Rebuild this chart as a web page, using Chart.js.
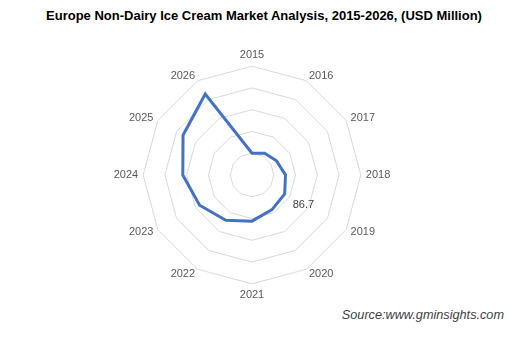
<!DOCTYPE html>
<html>
<head>
<meta charset="utf-8">
<title>Europe Non-Dairy Ice Cream Market</title>
<script src="https://cdn.jsdelivr.net/npm/chart.js@4/dist/chart.umd.min.js"></script>
<style>
    html, body { margin: 0; padding: 0; background: #fff; }
    #page { position: relative; width: 518px; height: 345px; overflow: hidden; }
    #title {
        position: absolute; left: 0; top: 8px; width: 528px; text-align: center;
        font: bold 13px "Liberation Sans", Arial, sans-serif; color: #000;
    }
    #source {
        position: absolute; right: 14px; top: 308px;
        font: italic 12.7px "Liberation Sans", Arial, sans-serif; color: #404040;
    }
    #chartWrap { position: absolute; left: 102px; top: 48px; width: 300px; height: 254px; }
</style>
</head>
<body>
<div id="page">
    <div id="title">Europe Non-Dairy Ice Cream Market Analysis, 2015-2026, (USD Million)</div>
    <div id="chartWrap"><canvas id="radarChart"></canvas></div>
    <div id="source">Source:www.gminsights.com</div>
</div>
<script>
// Ma'lumotlar rasmdan o'qildi (taxminiy), faqat 2019 yorlig'i aniq: 86.7
const years = ['2015', '2016', '2017', '2018', '2019', '2020', '2021', '2022', '2023', '2024', '2025', '2026'];
const marketSize = [50, 58, 65, 77, 86.7, 92, 106, 120, 139, 159, 183, 215];
const labelledIndex = 4;
const scaleMax = 250;
const scaleStep = 50;

const labelFont = { family: '"Liberation Sans", Arial, sans-serif', size: 11 };

// 2019 nuqtasi yonidagi qiymat yorlig'i
const valueLabelPlugin = {
    id: 'valueLabel',
    afterDatasetsDraw(chart) {
        const pt = chart.getDatasetMeta(0).data[labelledIndex];
        if (!pt) return;
        const ctx = chart.ctx;
        ctx.save();
        ctx.font = '11px "Liberation Sans", Arial, sans-serif';
        ctx.fillStyle = '#404040';
        ctx.textAlign = 'left';
        ctx.textBaseline = 'middle';
        ctx.fillText(String(marketSize[labelledIndex]), pt.x + 8, pt.y + 11);
        ctx.restore();
    },
};

// Excel yil yorliqlarini burchakda vertikal markazlaydi — shunga moslaymiz
function centerPointLabels(scale) {
    const items = scale._pointLabelItems || [];
    const half = labelFont.size * 1.2 / 2;
    items.forEach((item, i) => {
        const deg = Math.round(i * 360 / items.length);
        if (deg % 90 === 0) return;
        const shift = (deg < 90 || deg > 270) ? half : -half;
        item.y += shift;
        item.top += shift;
        item.bottom += shift;
    });
}

function renderRadar() {
    const canvas = document.getElementById('radarChart');
    new Chart(canvas.getContext('2d'), {
        type: 'radar',
        data: {
            labels: years,
            datasets: [{
                label: 'Market size',
                data: marketSize,
                borderColor: '#4472C4',
                borderWidth: 3,
                fill: false,
                pointRadius: 0,
                pointHoverRadius: 0,
                tension: 0,
            }],
        },
        options: {
            responsive: true,
            maintainAspectRatio: false,
            animation: false,
            plugins: {
                legend: { display: false },
                tooltip: { enabled: false },
            },
            scales: {
                r: {
                    min: 0,
                    max: scaleMax,
                    beginAtZero: true,
                    ticks: { display: false, stepSize: scaleStep },
                    angleLines: { display: false },
                    grid: { color: '#d9d9d9', lineWidth: 1 },
                    pointLabels: {
                        color: '#595959',
                        padding: 5,
                        font: labelFont,
                    },
                    afterFit: centerPointLabels,
                },
            },
        },
        plugins: [valueLabelPlugin],
    });
}

document.addEventListener('DOMContentLoaded', renderRadar);
</script>
</body>
</html>
